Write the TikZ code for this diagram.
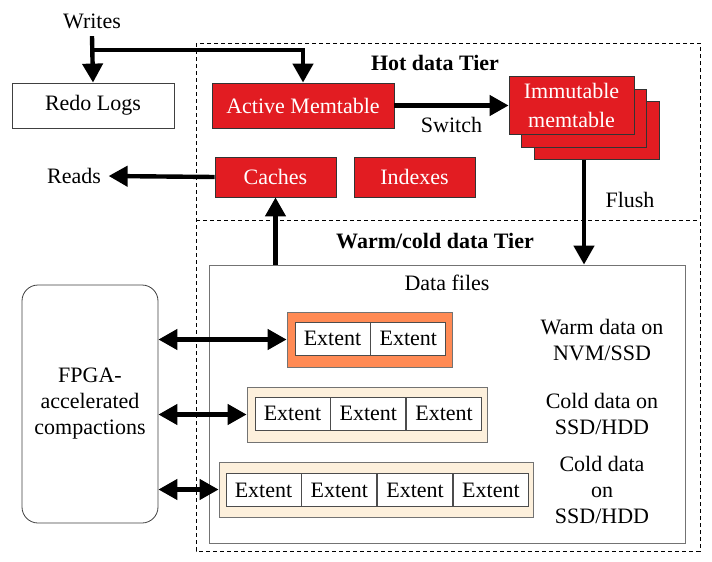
\documentclass[tikz,border=0pt]{standalone}
\usepackage{fontspec}
\setmainfont{Liberation Serif}
\usetikzlibrary{positioning}
\usetikzlibrary{arrows.meta}
\definecolor{memred}{RGB}{226,28,34}
\definecolor{warmorange}{RGB}{255,138,84}
\definecolor{coldbeige}{RGB}{253,240,220}
\tikzset{
    plainbox/.style = {rectangle, draw=black!75, thin, fill=white, align=center, inner sep=0pt, text=black},
    redbox/.style = {rectangle, draw=black!80, thin, fill=memred, align=center, inner sep=0pt, text=white},
    extbox/.style = {rectangle, draw=black!70, thin, fill=white, inner sep=0pt, minimum width=37.5pt, minimum height=16.5pt},
    tierbox/.style = {rectangle, draw=black!55, thin, inner sep=0pt, minimum height=27.5pt},
    tiertitle/.style = {font=\bfseries},
    arr/.style = {-{Triangle[length=9.5pt,width=10pt]}, line width=2.2pt, black},
    darr/.style = {{Triangle[length=9.5pt,width=10pt]}-{Triangle[length=9.5pt,width=10pt]}, line width=2.2pt, black},
    dashbox/.style = {thin, black, dash pattern=on 2pt off 1.5pt},
    every picture/.style={font issue=\fontsize{11}{13}},
    font issue/.style={execute at begin picture={#1\selectfont}}
}

\begin{document}
\begin{tikzpicture}[x=0.5pt,y=-0.5pt]
%
\path[use as bounding box] (0,0) rectangle (712,562);
%
% tiers
\draw[dashbox] (196,43) rectangle (700,551);
\draw[dashbox] (196,220) -- (700,220);
\node[tiertitle] at (435,63) (hot) {Hot data Tier};
\node[tiertitle] at (435,241) (warmcold) {Warm/cold data Tier};
%
% hot data tier
\node at (92,21) (writes) {Writes};
\node[plainbox,minimum width=81pt,minimum height=22.5pt] at (93,105.5) (redo) {Redo Logs};
\node[redbox,minimum width=91pt,minimum height=22.5pt] at (303,105.5) (active) {Active Memtable};
\node[redbox,minimum width=62.5pt,minimum height=29pt] at (596.5,130.5) (imm3) {};
\node[redbox,minimum width=62.5pt,minimum height=29pt] at (584,118) (imm2) {};
\node[redbox,minimum width=62.5pt,minimum height=29pt] at (571.5,105.5) (imm1) {Immutable\\[1.5pt]memtable};
\node[redbox,minimum width=60.5pt,minimum height=20pt] at (275.5,177) (caches) {Caches};
\node[redbox,minimum width=60.5pt,minimum height=20pt] at (414.5,177) (indexes) {Indexes};
\node at (74,176) (reads) {Reads};
%
\coordinate (wsplit) at (92,50);
\draw[arr] (writes.south) -- (redo.north);
\draw[arr] (wsplit) -| (active.north);
\draw[arr] (active.east) -- (imm1.west) node[midway,below=1pt] (switch) {Switch};
\draw[arr] (caches.west) -- (reads.east);
%
% warm/cold data tier
\node[plainbox,draw=black!55,minimum width=238pt,minimum height=139pt] at (447,404) (datafiles) {};
\node at (447,283) (dftitle) {Data files};
\node[plainbox,rounded corners=8pt,minimum width=68pt,minimum height=119pt] at (90,404) (fpga) {FPGA-\\accelerated\\compactions};
%
\draw[arr] (imm3.south -| imm2) -- (imm2 |- datafiles.north) node[pos=0.38,right=6pt] (flush) {Flush};
\draw[arr] (datafiles.north -| caches) -- (caches.south);
%
\node[tierbox,fill=warmorange,minimum width=82.5pt] at (369.5,339.5) (warm) {};
\node[extbox] at (332.5,338.5) (w1) {Extent};
\node[extbox,right=0pt of w1] (w2) {Extent};
%
\node[tierbox,fill=coldbeige,minimum width=120pt] at (367,414.5) (coldA) {};
\node[extbox] at (292.5,413.5) (a1) {Extent};
\node[extbox,right=0pt of a1] (a2) {Extent};
\node[extbox,right=0pt of a2] (a3) {Extent};
%
\node[tierbox,fill=coldbeige,minimum width=157pt] at (376,489.5) (coldB) {};
\node[extbox] at (263.5,490) (b1) {Extent};
\node[extbox,right=0pt of b1] (b2) {Extent};
\node[extbox,right=0pt of b2] (b3) {Extent};
\node[extbox,right=0pt of b3] (b4) {Extent};
%
\draw[darr] (fpga.east |- warm) -- (warm.west);
\draw[darr] (fpga.east |- coldA) -- (coldA.west);
\draw[darr] (fpga.east |- coldB) -- (coldB.west);
%
\node[align=center] at (602,340) (warmlbl) {Warm data on\\NVM/SSD};
\node[align=center] at (602,414) (coldAlbl) {Cold data on\\SSD/HDD};
\node[align=center] at (602,490) (coldBlbl) {Cold data\\on\\SSD/HDD};

\end{tikzpicture}
\end{document}
